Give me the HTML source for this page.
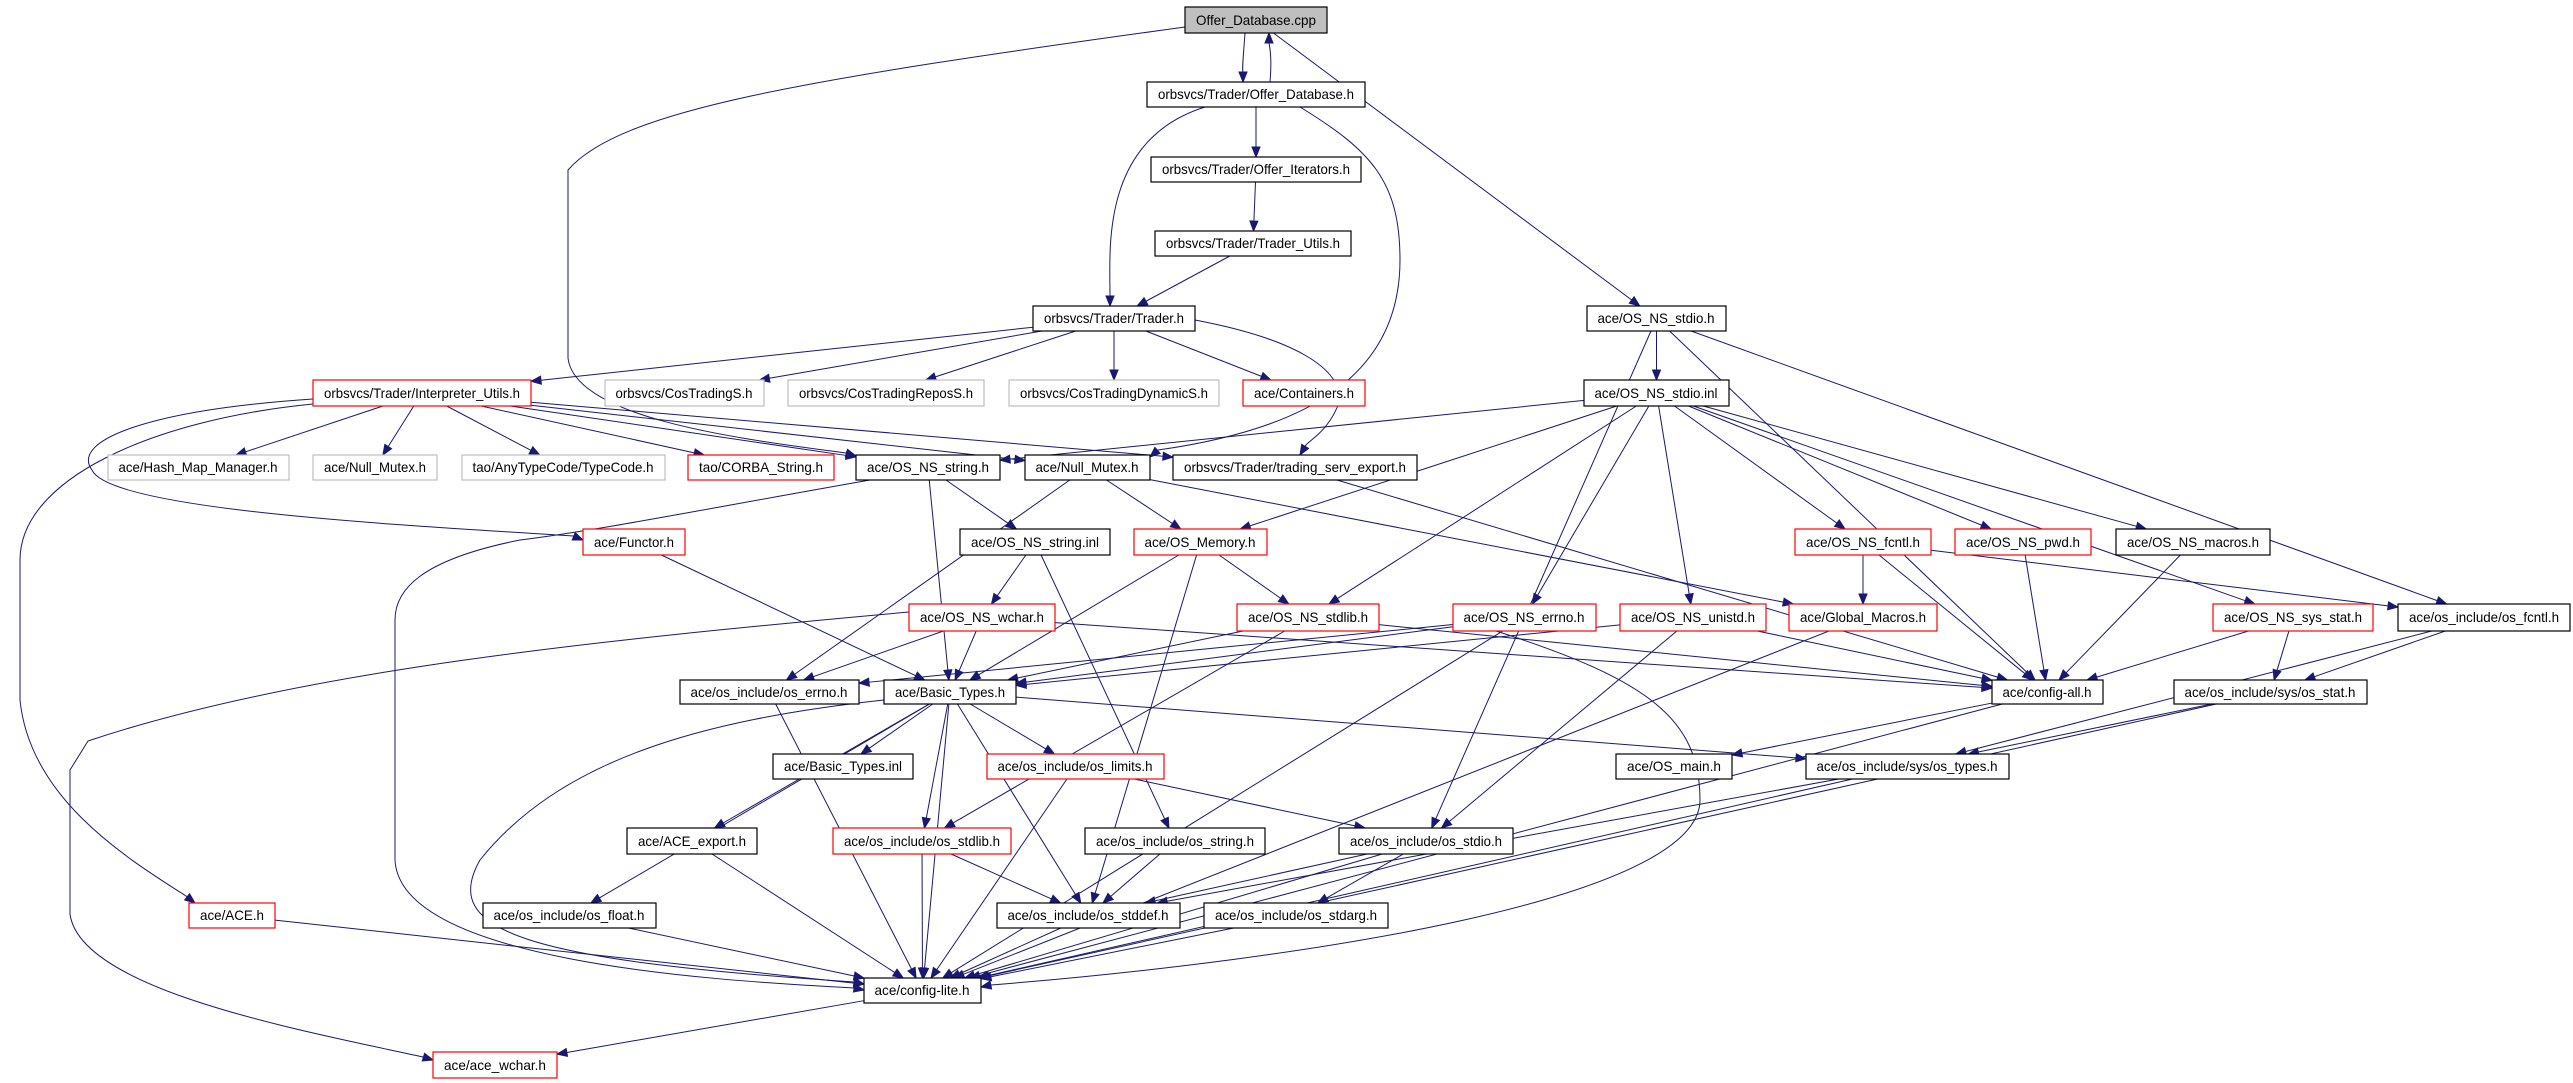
<!DOCTYPE html>
<html><head><meta charset="utf-8"><style>
html,body{margin:0;padding:0;background:#fff;}
svg{display:block;}
text{font-family:"Liberation Sans",sans-serif;font-size:14px;fill:#000;}
</style></head><body>
<svg id="g" width="2573" height="1083" viewBox="0 0 2573 1083" xmlns="http://www.w3.org/2000/svg">
<rect x="0" y="0" width="2573" height="1083" fill="#fff"/>
<g id="edges" fill="none" stroke="#191970" stroke-width="1"></g>
<g id="heads" fill="#191970" stroke="#191970"></g>
<g id="nodes" stroke-width="1.2">
<rect x="1185" y="7" width="142" height="26" fill="#bfbfbf" stroke="#000"/><text x="1256" y="25" text-anchor="middle" textLength="120" lengthAdjust="spacingAndGlyphs">Offer_Database.cpp</text>
<rect x="1147" y="82" width="218" height="25" fill="#fff" stroke="#000"/><text x="1256" y="99" text-anchor="middle" textLength="196" lengthAdjust="spacingAndGlyphs">orbsvcs/Trader/Offer_Database.h</text>
<rect x="1151" y="157" width="210" height="25" fill="#fff" stroke="#000"/><text x="1256" y="174" text-anchor="middle" textLength="188" lengthAdjust="spacingAndGlyphs">orbsvcs/Trader/Offer_Iterators.h</text>
<rect x="1155" y="231" width="196" height="25" fill="#fff" stroke="#000"/><text x="1253" y="248" text-anchor="middle" textLength="174" lengthAdjust="spacingAndGlyphs">orbsvcs/Trader/Trader_Utils.h</text>
<rect x="1033" y="306" width="162" height="25" fill="#fff" stroke="#000"/><text x="1114" y="323" text-anchor="middle" textLength="140" lengthAdjust="spacingAndGlyphs">orbsvcs/Trader/Trader.h</text>
<rect x="1587" y="306" width="139" height="25" fill="#fff" stroke="#000"/><text x="1656" y="323" text-anchor="middle" textLength="117" lengthAdjust="spacingAndGlyphs">ace/OS_NS_stdio.h</text>
<rect x="313" y="380" width="218" height="26" fill="#fff" stroke="#f00"/><text x="422" y="398" text-anchor="middle" textLength="196" lengthAdjust="spacingAndGlyphs">orbsvcs/Trader/Interpreter_Utils.h</text>
<rect x="605" y="380" width="159" height="26" fill="#fff" stroke="#bfbfbf"/><text x="684" y="398" text-anchor="middle" textLength="137" lengthAdjust="spacingAndGlyphs">orbsvcs/CosTradingS.h</text>
<rect x="788" y="380" width="196" height="26" fill="#fff" stroke="#bfbfbf"/><text x="886" y="398" text-anchor="middle" textLength="174" lengthAdjust="spacingAndGlyphs">orbsvcs/CosTradingReposS.h</text>
<rect x="1009" y="380" width="210" height="26" fill="#fff" stroke="#bfbfbf"/><text x="1114" y="398" text-anchor="middle" textLength="188" lengthAdjust="spacingAndGlyphs">orbsvcs/CosTradingDynamicS.h</text>
<rect x="1243" y="380" width="122" height="26" fill="#fff" stroke="#f00"/><text x="1304" y="398" text-anchor="middle" textLength="100" lengthAdjust="spacingAndGlyphs">ace/Containers.h</text>
<rect x="1584" y="380" width="145" height="26" fill="#fff" stroke="#000"/><text x="1656" y="398" text-anchor="middle" textLength="123" lengthAdjust="spacingAndGlyphs">ace/OS_NS_stdio.inl</text>
<rect x="108" y="455" width="181" height="25" fill="#fff" stroke="#bfbfbf"/><text x="198" y="472" text-anchor="middle" textLength="159" lengthAdjust="spacingAndGlyphs">ace/Hash_Map_Manager.h</text>
<rect x="313" y="455" width="124" height="25" fill="#fff" stroke="#bfbfbf"/><text x="375" y="472" text-anchor="middle" textLength="102" lengthAdjust="spacingAndGlyphs">ace/Null_Mutex.h</text>
<rect x="462" y="455" width="203" height="25" fill="#fff" stroke="#bfbfbf"/><text x="563" y="472" text-anchor="middle" textLength="181" lengthAdjust="spacingAndGlyphs">tao/AnyTypeCode/TypeCode.h</text>
<rect x="688" y="455" width="146" height="25" fill="#fff" stroke="#f00"/><text x="761" y="472" text-anchor="middle" textLength="124" lengthAdjust="spacingAndGlyphs">tao/CORBA_String.h</text>
<rect x="856" y="455" width="144" height="25" fill="#fff" stroke="#000"/><text x="928" y="472" text-anchor="middle" textLength="122" lengthAdjust="spacingAndGlyphs">ace/OS_NS_string.h</text>
<rect x="1025" y="455" width="125" height="25" fill="#fff" stroke="#000"/><text x="1087" y="472" text-anchor="middle" textLength="103" lengthAdjust="spacingAndGlyphs">ace/Null_Mutex.h</text>
<rect x="1173" y="455" width="244" height="25" fill="#fff" stroke="#000"/><text x="1295" y="472" text-anchor="middle" textLength="222" lengthAdjust="spacingAndGlyphs">orbsvcs/Trader/trading_serv_export.h</text>
<rect x="583" y="529" width="102" height="26" fill="#fff" stroke="#f00"/><text x="634" y="547" text-anchor="middle" textLength="80" lengthAdjust="spacingAndGlyphs">ace/Functor.h</text>
<rect x="960" y="529" width="150" height="26" fill="#fff" stroke="#000"/><text x="1035" y="547" text-anchor="middle" textLength="128" lengthAdjust="spacingAndGlyphs">ace/OS_NS_string.inl</text>
<rect x="1134" y="529" width="133" height="26" fill="#fff" stroke="#f00"/><text x="1200" y="547" text-anchor="middle" textLength="111" lengthAdjust="spacingAndGlyphs">ace/OS_Memory.h</text>
<rect x="1795" y="529" width="136" height="26" fill="#fff" stroke="#f00"/><text x="1863" y="547" text-anchor="middle" textLength="114" lengthAdjust="spacingAndGlyphs">ace/OS_NS_fcntl.h</text>
<rect x="1955" y="529" width="136" height="26" fill="#fff" stroke="#f00"/><text x="2023" y="547" text-anchor="middle" textLength="114" lengthAdjust="spacingAndGlyphs">ace/OS_NS_pwd.h</text>
<rect x="2116" y="529" width="154" height="26" fill="#fff" stroke="#000"/><text x="2193" y="547" text-anchor="middle" textLength="132" lengthAdjust="spacingAndGlyphs">ace/OS_NS_macros.h</text>
<rect x="909" y="604" width="146" height="27" fill="#fff" stroke="#f00"/><text x="982" y="622" text-anchor="middle" textLength="124" lengthAdjust="spacingAndGlyphs">ace/OS_NS_wchar.h</text>
<rect x="1237" y="604" width="142" height="27" fill="#fff" stroke="#f00"/><text x="1308" y="622" text-anchor="middle" textLength="120" lengthAdjust="spacingAndGlyphs">ace/OS_NS_stdlib.h</text>
<rect x="1453" y="604" width="143" height="27" fill="#fff" stroke="#f00"/><text x="1524" y="622" text-anchor="middle" textLength="121" lengthAdjust="spacingAndGlyphs">ace/OS_NS_errno.h</text>
<rect x="1620" y="604" width="146" height="27" fill="#fff" stroke="#f00"/><text x="1693" y="622" text-anchor="middle" textLength="124" lengthAdjust="spacingAndGlyphs">ace/OS_NS_unistd.h</text>
<rect x="1789" y="604" width="148" height="27" fill="#fff" stroke="#f00"/><text x="1863" y="622" text-anchor="middle" textLength="126" lengthAdjust="spacingAndGlyphs">ace/Global_Macros.h</text>
<rect x="2213" y="604" width="160" height="27" fill="#fff" stroke="#f00"/><text x="2293" y="622" text-anchor="middle" textLength="138" lengthAdjust="spacingAndGlyphs">ace/OS_NS_sys_stat.h</text>
<rect x="2398" y="604" width="172" height="27" fill="#fff" stroke="#000"/><text x="2484" y="622" text-anchor="middle" textLength="150" lengthAdjust="spacingAndGlyphs">ace/os_include/os_fcntl.h</text>
<rect x="680" y="680" width="179" height="24" fill="#fff" stroke="#000"/><text x="769" y="697" text-anchor="middle" textLength="157" lengthAdjust="spacingAndGlyphs">ace/os_include/os_errno.h</text>
<rect x="884" y="680" width="132" height="24" fill="#fff" stroke="#000"/><text x="950" y="697" text-anchor="middle" textLength="110" lengthAdjust="spacingAndGlyphs">ace/Basic_Types.h</text>
<rect x="1992" y="680" width="111" height="24" fill="#fff" stroke="#000"/><text x="2047" y="697" text-anchor="middle" textLength="89" lengthAdjust="spacingAndGlyphs">ace/config-all.h</text>
<rect x="2174" y="680" width="193" height="24" fill="#fff" stroke="#000"/><text x="2270" y="697" text-anchor="middle" textLength="171" lengthAdjust="spacingAndGlyphs">ace/os_include/sys/os_stat.h</text>
<rect x="773" y="754" width="140" height="25" fill="#fff" stroke="#000"/><text x="843" y="771" text-anchor="middle" textLength="118" lengthAdjust="spacingAndGlyphs">ace/Basic_Types.inl</text>
<rect x="987" y="754" width="177" height="25" fill="#fff" stroke="#f00"/><text x="1075" y="771" text-anchor="middle" textLength="155" lengthAdjust="spacingAndGlyphs">ace/os_include/os_limits.h</text>
<rect x="1616" y="754" width="116" height="25" fill="#fff" stroke="#000"/><text x="1674" y="771" text-anchor="middle" textLength="94" lengthAdjust="spacingAndGlyphs">ace/OS_main.h</text>
<rect x="1806" y="754" width="203" height="25" fill="#fff" stroke="#000"/><text x="1907" y="771" text-anchor="middle" textLength="181" lengthAdjust="spacingAndGlyphs">ace/os_include/sys/os_types.h</text>
<rect x="627" y="828" width="130" height="26" fill="#fff" stroke="#000"/><text x="692" y="846" text-anchor="middle" textLength="108" lengthAdjust="spacingAndGlyphs">ace/ACE_export.h</text>
<rect x="833" y="828" width="178" height="26" fill="#fff" stroke="#f00"/><text x="922" y="846" text-anchor="middle" textLength="156" lengthAdjust="spacingAndGlyphs">ace/os_include/os_stdlib.h</text>
<rect x="1085" y="828" width="180" height="26" fill="#fff" stroke="#000"/><text x="1175" y="846" text-anchor="middle" textLength="158" lengthAdjust="spacingAndGlyphs">ace/os_include/os_string.h</text>
<rect x="1339" y="828" width="174" height="26" fill="#fff" stroke="#000"/><text x="1426" y="846" text-anchor="middle" textLength="152" lengthAdjust="spacingAndGlyphs">ace/os_include/os_stdio.h</text>
<rect x="189" y="903" width="86" height="25" fill="#fff" stroke="#f00"/><text x="232" y="920" text-anchor="middle" textLength="64" lengthAdjust="spacingAndGlyphs">ace/ACE.h</text>
<rect x="483" y="903" width="173" height="25" fill="#fff" stroke="#000"/><text x="569" y="920" text-anchor="middle" textLength="151" lengthAdjust="spacingAndGlyphs">ace/os_include/os_float.h</text>
<rect x="997" y="903" width="183" height="25" fill="#fff" stroke="#000"/><text x="1088" y="920" text-anchor="middle" textLength="161" lengthAdjust="spacingAndGlyphs">ace/os_include/os_stddef.h</text>
<rect x="1204" y="903" width="184" height="25" fill="#fff" stroke="#000"/><text x="1296" y="920" text-anchor="middle" textLength="162" lengthAdjust="spacingAndGlyphs">ace/os_include/os_stdarg.h</text>
<rect x="864" y="978" width="117" height="25" fill="#fff" stroke="#000"/><text x="922" y="995" text-anchor="middle" textLength="95" lengthAdjust="spacingAndGlyphs">ace/config-lite.h</text>
<rect x="433" y="1052" width="124" height="26" fill="#fff" stroke="#f00"/><text x="495" y="1070" text-anchor="middle" textLength="102" lengthAdjust="spacingAndGlyphs">ace/ace_wchar.h</text>
</g>
</svg>
<script>
(function(){
var N={cpp:[1185,7,1327,33],odb:[1147,82,1365,107],oit:[1151,157,1361,182],tut:[1155,231,1351,256],tra:[1033,306,1195,331],nsstdio:[1587,306,1726,331],
iu:[313,380,531,406],cts:[605,380,764,406],ctr:[788,380,984,406],ctd:[1009,380,1219,406],cont:[1243,380,1365,406],nsinl:[1584,380,1729,406],
hmm:[108,455,289,480],nmg:[313,455,437,480],tc:[462,455,665,480],cs:[688,455,834,480],nss:[856,455,1000,480],nm:[1025,455,1150,480],tse:[1173,455,1417,480],
fun:[583,529,685,555],nssi:[960,529,1110,555],mem:[1134,529,1267,555],fcntl:[1795,529,1931,555],pwd:[1955,529,2091,555],mac:[2116,529,2270,555],
wchar:[909,604,1055,631],stdlib:[1237,604,1379,631],errno:[1453,604,1596,631],unistd:[1620,604,1766,631],gm:[1789,604,1937,631],sstat:[2213,604,2373,631],ofcntl:[2398,604,2570,631],
oerrno:[680,680,859,704],bt:[884,680,1016,704],call:[1992,680,2103,704],ostat:[2174,680,2367,704],
bti:[773,754,913,779],lim:[987,754,1164,779],main:[1616,754,1732,779],otypes:[1806,754,2009,779],
aexp:[627,828,757,854],ostdlib:[833,828,1011,854],ostr:[1085,828,1265,854],ostdio:[1339,828,1513,854],
ace:[189,903,275,928],flt:[483,903,656,928],stddef:[997,903,1180,928],stdarg:[1204,903,1388,928],clite:[864,978,981,1003],aw:[433,1052,557,1078]};
var E="cpp-nsstdio odb-oit oit-tut tut-tra tra-iu tra-cts tra-ctr tra-ctd tra-cont iu-hmm iu-nmg iu-tc iu-cs iu-nss iu-nm iu-tse "+
"nsstdio-nsinl nsstdio-ostdio nsstdio-call nsstdio-ofcntl nsinl-nss nsinl-mem nsinl-stdlib nsinl-errno nsinl-unistd nsinl-fcntl nsinl-pwd nsinl-mac nsinl-sstat "+
"nss-nssi nss-bt nm-mem nm-oerrno nm-gm tse-call fun-bt nssi-wchar nssi-ostr mem-bt mem-stdlib mem-stddef wchar-bt wchar-oerrno wchar-call "+
"stdlib-bt stdlib-ostdlib stdlib-call errno-bt errno-oerrno errno-clite unistd-bt unistd-ostdio unistd-call gm-clite fcntl-gm fcntl-call fcntl-ofcntl "+
"pwd-call mac-call sstat-call sstat-ostat ofcntl-ostat ofcntl-otypes bt-bti bt-lim bt-ostdlib bt-stddef bt-aexp bt-flt bt-clite bt-otypes "+
"oerrno-clite call-clite call-main ostat-otypes ostat-clite otypes-stddef otypes-clite lim-ostdio lim-clite ostdlib-clite ostdlib-stddef ostr-stddef "+
"ostdio-stddef ostdio-stdarg ostdio-clite stddef-clite stdarg-clite aexp-clite flt-clite ace-clite clite-aw";
var eg=document.getElementById('edges'),hg=document.getElementById('heads'),NS='http://www.w3.org/2000/svg';
function c(b){return [(b[0]+b[2])/2,(b[1]+b[3])/2];}
function bp(b,t){var o=c(b),dx=t[0]-o[0],dy=t[1]-o[1],hw=(b[2]-b[0])/2,hh=(b[3]-b[1])/2;
 var s=Math.min(dx?hw/Math.abs(dx):1e9,dy?hh/Math.abs(dy):1e9);return [o[0]+dx*s,o[1]+dy*s];}
function head(p,from){var dx=p[0]-from[0],dy=p[1]-from[1],l=Math.sqrt(dx*dx+dy*dy)||1;dx/=l;dy/=l;
 var bx=p[0]-dx*10,by=p[1]-dy*10,pl=document.createElementNS(NS,'polygon');
 pl.setAttribute('points',p[0]+','+p[1]+' '+(bx-dy*4)+','+(by+dx*4)+' '+(bx+dy*4)+','+(by-dx*4));hg.appendChild(pl);
 return [bx,by];}
function path(d){var p=document.createElementNS(NS,'path');p.setAttribute('d',d);eg.appendChild(p);}
E.split(' ').forEach(function(e){var a=e.split('-'),S=N[a[0]],T=N[a[1]],s=bp(S,c(T)),t=bp(T,c(S));
 var b=head(t,s);path('M'+s[0]+','+s[1]+' L'+b[0]+','+b[1]);});
function cur(d,end,from){var b=head(end,from);path(d+' '+b[0]+','+b[1]);}
// custom curves
cur('M1245,33 C1243,60 1242,70 1243,72 L',[1243,82],[1243,72]);
cur('M1270,82 C1272,60 1270,48 1269,43 L',[1269,33],[1269,43]);
cur('M1205,107 C1100,140 1110,250 1110,296 L',[1110,306],[1110,296]);
cur('M1300,107 C1370,150 1400,180 1400,260 C1400,380 1300,430 1158,450 L',[1150,457],[1158,450]);
cur('M1195,320 C1300,340 1340,370 1340,400 C1330,430 1310,440 1306,445 L',[1300,455],[1306,445]);
cur('M1185,27 C800,80 620,110 568,170 L568,358 C575,420 750,440 846,453 L',[856,456],[846,453]);
cur('M313,399 C150,410 70,440 92,470 C110,510 400,525 573,536 L',[583,540],[573,536]);
cur('M313,404 C150,420 20,480 20,560 L20,700 C30,800 130,860 186,896 L',[195,903],[186,896]);
cur('M909,612 C600,640 300,670 88,741 L70,770 L70,914 C80,990 300,1030 423,1057 L',[433,1060],[423,1057]);
cur('M870,480 C700,510 600,530 520,540 C420,560 395,590 395,620 L395,860 C400,960 700,980 854,988 L',[864,990],[854,988]);
cur('M884,700 C700,720 560,760 480,860 C440,930 520,960 854,982 L',[864,984],[854,982]);
cur('M1496,631 C1650,680 1700,720 1700,800 C1700,900 1300,960 991,985 L',[981,987],[991,985]);
})();
</script>
</body></html>
